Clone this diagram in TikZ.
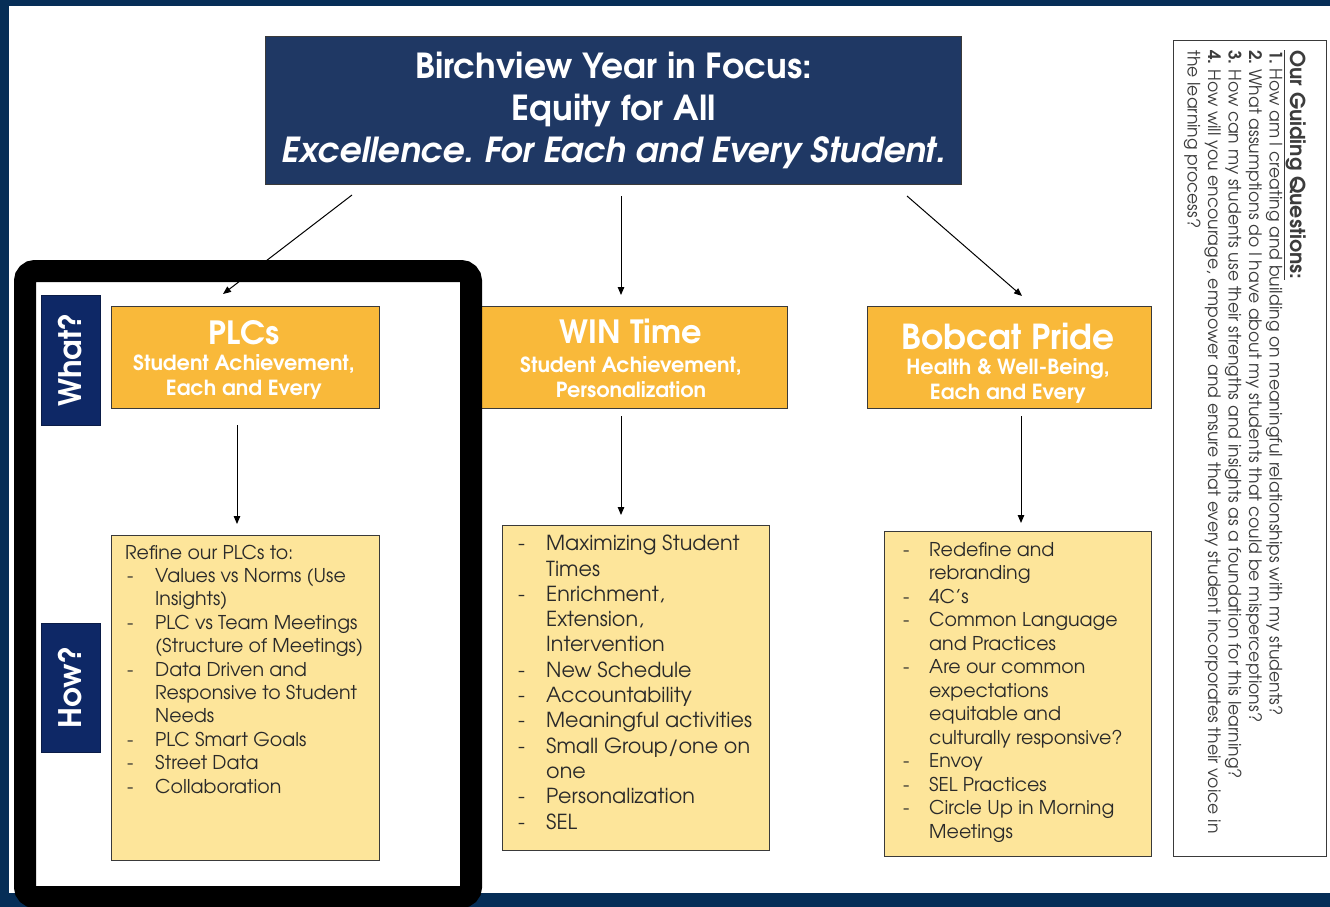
\documentclass[tikz,border=0pt]{standalone}
\usepackage{fontspec}
\setmainfont{texgyreadventor}[Extension=.otf, UprightFont=*-regular, BoldFont=*-bold, ItalicFont=*-italic, BoldItalicFont=*-bolditalic]
\usetikzlibrary{arrows.meta}
\definecolor{framebg}{HTML}{062E57}
\definecolor{titlebg}{HTML}{1F3864}
\definecolor{tabbg}{HTML}{0E2866}
\definecolor{hdr}{HTML}{F9B93A}
\definecolor{lst}{HTML}{FDE59A}
\definecolor{bordr}{HTML}{3A3A3A}
\definecolor{txt}{HTML}{2A2A2A}
\definecolor{gtxt}{HTML}{3C3C3C}
\frenchspacing
\newlength\lind
\newcommand\di[1]{\hspace*{2pt}\makebox[\lind][l]{-}#1}
\newcommand\dc[1]{\hspace*{2pt}\hspace*{\lind}#1}
\tikzset{
  box/.style={draw=bordr, line width=1pt, anchor=north west, inner sep=0pt},
  hdrbox/.style={box, fill=hdr},
  lstbox/.style={box, fill=lst},
  tab/.style={fill=tabbg, draw=tabbg!70!black, line width=0.6pt, rotate=90, text=white, font=\bfseries\fontsize{31}{34}\selectfont, inner sep=0pt},
  hdrtitle/.style={text=white, font=\bfseries\fontsize{32}{36}\selectfont, inner sep=0pt},
  hdrsub/.style={text=white, font=\bfseries\fontsize{20.8}{25}\selectfont, align=center, inner sep=0pt},
  listtxt/.style={text=txt, align=left, anchor=base west, inner sep=0pt},
  arr/.style={-{Triangle[length=8pt,width=6.5pt]}, line width=1pt, black},
}
\begin{document}
\begin{tikzpicture}[x=1pt,y=-1pt]
\useasboundingbox (0,0) rectangle (1330,907);
\fill[framebg] (0,0) rectangle (1330,907);
\fill[white] (8.5,6) rectangle (1330,893);

% title
\node[box, fill=titlebg, minimum width=696pt, minimum height=148pt, text=white,
  align=center, font=\bfseries\fontsize{34.5}{42}\selectfont] (title) at (265,36)
  {Birchview Year in Focus:\\ Equity for All\\ \textit{Excellence. For Each and Every Student.}};

% header boxes
\node[hdrbox, minimum width=268pt, minimum height=102pt] (plc) at (111,306) {};
\node[hdrbox, minimum width=312pt, minimum height=102pt] (win) at (475,306) {};
\node[hdrbox, minimum width=284pt, minimum height=102pt] (bob) at (867,306) {};
\node[hdrtitle] (plcT) at (244,333) {PLCs};
\node[hdrsub] (plcS) at (244,377) {Student Achievement,\\ Each and Every};
\node[hdrtitle] (winT) at (631,331) {WIN Time};
\node[hdrsub] (winS) at (631,377) {Student Achievement,\\ Personalization};
\node[hdrtitle, font=\bfseries\fontsize{34.4}{38}\selectfont] (bobT) at (1008,337) {Bobcat Pride};
\node[hdrsub] (bobS) at (1008,381) {Health \& Well-Being,\\ Each and Every};

% list boxes
\node[lstbox, minimum width=268pt, minimum height=325pt] (plcL) at (111,535) {};
\node[lstbox, minimum width=267pt, minimum height=325pt] (winL) at (502,525) {};
\node[lstbox, minimum width=267pt, minimum height=325pt] (bobL) at (884,531) {};

\setlength\lind{28pt}
\node[listtxt, font=\fontsize{19}{23.4}\selectfont] (plcLt) at (125,793)
 {Refine our PLCs to:\\
  \di{Values vs Norms (Use}\\
  \dc{Insights)}\\
  \di{PLC vs Team Meetings}\\
  \dc{(Structure of Meetings)}\\
  \di{Data Driven and}\\
  \dc{Responsive to Student}\\
  \dc{Needs}\\
  \di{PLC Smart Goals}\\
  \di{Street Data}\\
  \di{Collaboration}};
\node[listtxt, font=\fontsize{20.7}{25.3}\selectfont] (winLt) at (516,829)
 {\di{Maximizing Student}\\
  \dc{Times}\\
  \di{Enrichment,}\\
  \dc{Extension,}\\
  \dc{Intervention}\\
  \di{New Schedule}\\
  \di{Accountability}\\
  \di{Meaningful activities}\\
  \di{Small Group/one on}\\
  \dc{one}\\
  \di{Personalization}\\
  \di{SEL}};
\setlength\lind{26pt}
\node[listtxt, font=\fontsize{19}{23.5}\selectfont] (bobLt) at (901,838)
 {\di{Redefine and}\\
  \dc{rebranding}\\
  \di{4C's}\\
  \di{Common Language}\\
  \dc{and Practices}\\
  \di{Are our common}\\
  \dc{expectations}\\
  \dc{equitable and}\\
  \dc{culturally responsive?}\\
  \di{Envoy}\\
  \di{SEL Practices}\\
  \di{Circle Up in Morning}\\
  \dc{Meetings}};

% tabs
\node[tab, minimum width=130pt, minimum height=59pt] (what) at (70.5,360) {What?};
\node[tab, minimum width=129pt, minimum height=59pt] (how) at (70.5,687.5) {How?};

% guiding questions
\node[draw=bordr, line width=1.2pt, anchor=north west, minimum width=153pt, minimum height=816pt, inner sep=0pt] (gbox) at (1173,40) {};
\node[rotate=-90, anchor=north west, align=left, text=gtxt, inner sep=0pt,
  font=\fontsize{17.2}{20.5}\selectfont] (gq) at (1306,50)
 {{\fontsize{20.5}{20.5}\selectfont\bfseries\underline{Our Guiding Questions:}}\\
  \textbf{1.} How am I creating and building on meaningful relationships with my students?\\
  \textbf{2.} What assumptions do I have about my students that could be misperceptions?\\
  \textbf{3.} How can my students use their strengths and insights as a foundation for this learning?\\
  \textbf{4.} How will you encourage, empower and ensure that every student incorporates their voice in\\
  the learning process?};

% arrows
\coordinate (a1s) at (352,195); \coordinate (a1e) at (223,294);
\coordinate (a2s) at (621,196); \coordinate (a2e) at (621,295);
\coordinate (a3s) at (907,196); \coordinate (a3e) at (1022,296);
\coordinate (a4s) at (237,425); \coordinate (a4e) at (237,524);
\coordinate (a5s) at (621,416); \coordinate (a5e) at (621,515);
\coordinate (a6s) at (1021,416); \coordinate (a6e) at (1021,523);
\draw[arr] (a2s) -- (a2e);
\draw[arr] (a3s) -- (a3e);
\draw[arr] (a4s) -- (a4e);
\draw[arr] (a5s) -- (a5e);
\draw[arr] (a6s) -- (a6e);

% black highlight frame
\draw[black, line width=22pt, rounded corners=10pt] (25,271) rectangle (471,897);
\draw[arr] (a1s) -- (a1e);
\end{tikzpicture}
\end{document}
